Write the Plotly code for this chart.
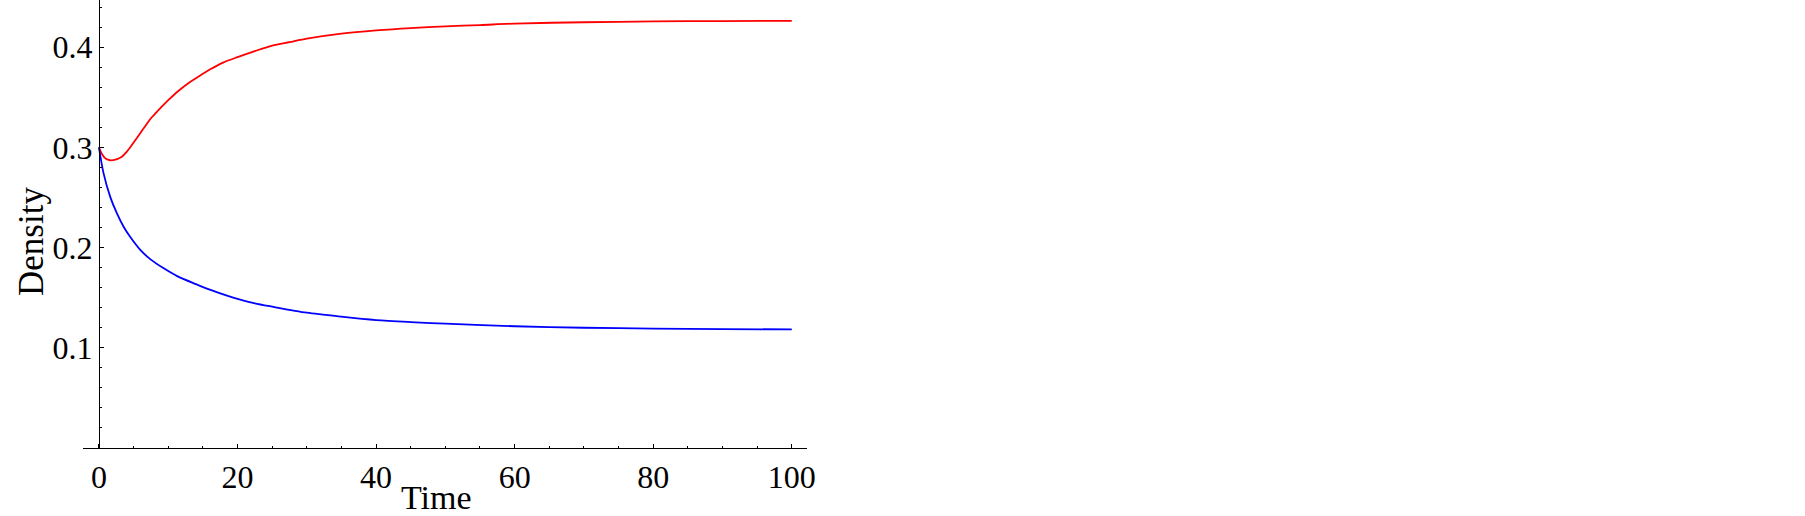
import plotly.graph_objects as go

# Red curve (Density vs Time)
red_t = [0, 0.5, 1, 1.6, 2.5, 3.3, 4, 4.7, 5.5, 6.2, 7, 7.6, 8.5, 9, 10, 11.5, 13, 14, 16, 18,
         20, 22.5, 25, 27.5, 30, 35, 40, 45, 50, 55, 60, 70, 80, 90, 100]
red_y = [0.300, 0.2925, 0.2885, 0.2871, 0.2880, 0.2906, 0.2955, 0.3018, 0.3095, 0.3165, 0.3243, 0.3298,
         0.3365, 0.340, 0.347, 0.3565, 0.3645, 0.369, 0.3776, 0.3848, 0.390, 0.396, 0.4015, 0.405,
         0.4085, 0.4135, 0.4167, 0.419, 0.4207, 0.422, 0.4235, 0.4248, 0.4256, 0.426, 0.4262]

# Blue curve
blue_t = [0, 0.67, 1.63, 2.6, 3.56, 4.5, 6, 7.4, 9.3, 11.3, 14, 16, 18.7, 20.4, 22.5, 25, 30, 35,
          40, 45, 50, 60, 70, 80, 90, 100]
blue_y = [0.300, 0.274, 0.2506, 0.234, 0.2207, 0.2107, 0.1974, 0.1885, 0.1795, 0.1715, 0.1635,
          0.158, 0.1515, 0.148, 0.1443, 0.141, 0.135, 0.131, 0.1276, 0.1256, 0.124, 0.1215,
          0.1200, 0.1192, 0.1187, 0.1183]

x_ticks = [0, 20, 40, 60, 80, 100]
y_ticks = [0.1, 0.2, 0.3, 0.4]
y_tick_text = ["0.1", "0.2", "0.3", "0.4"]

FONT = "Liberation Serif, Times New Roman, serif"

fig = go.Figure()
fig.add_trace(go.Scatter(x=red_t, y=red_y, mode="lines", line=dict(color="#ff0000", width=1.8, shape="spline", smoothing=0.8), showlegend=False))
fig.add_trace(go.Scatter(x=blue_t, y=blue_y, mode="lines", line=dict(color="#0000ff", width=1.8, shape="spline", smoothing=0.8), showlegend=False))

W, H = 1805, 516
L, R, T, B = 83, 998, 0, 68
plot_w = W - L - R
plot_h = H - T - B

fig.update_layout(
    width=W, height=H,
    margin=dict(l=L, r=R, t=T, b=B, pad=0, autoexpand=False),
    paper_bgcolor="white", plot_bgcolor="white",
    font=dict(family=FONT, size=32, color="black"),
    xaxis=dict(
        range=[-2.3, 102.2], showgrid=False, zeroline=False, automargin=False,
        showline=True, linecolor="black", linewidth=1.4,
        tickmode="array", tickvals=x_ticks, ticks="inside", ticklen=4, tickwidth=1.2, tickcolor="black",
        minor=dict(tickmode="linear", tick0=0, dtick=5, ticks="inside", ticklen=2, tickwidth=1, tickcolor="black"),
        tickfont=dict(family=FONT, size=32, color="black"),
    ),
    yaxis=dict(
        range=[0, 0.447], showgrid=False, zeroline=False, automargin=False,
        anchor="free", position=(99 - L) / plot_w,
        showline=True, linecolor="black", linewidth=1.4,
        tickmode="array", tickvals=y_ticks, ticktext=y_tick_text,
        ticks="inside", ticklen=4, tickwidth=1.2, tickcolor="black",
        minor=dict(tickmode="linear", tick0=0, dtick=0.02, ticks="inside", ticklen=2, tickwidth=1, tickcolor="black"),
        tickfont=dict(family=FONT, size=32, color="black"),
    ),
    annotations=[
        dict(text="Time", xref="paper", yref="paper", x=(436 - L) / plot_w, y=-(497 - plot_h) / plot_h,
             xanchor="center", yanchor="middle", showarrow=False, font=dict(family=FONT, size=34, color="black")),
        dict(text="Density", xref="paper", yref="paper", x=(31 - L) / plot_w, y=(plot_h - 242) / plot_h,
             xanchor="center", yanchor="middle", textangle=-90, showarrow=False,
             font=dict(family=FONT, size=35, color="black")),
    ],
)

fig.write_html(
    "out.html",
    config={"displayModeBar": False},
    post_script="document.body.style.margin='0';document.body.style.padding='0';document.body.style.overflow='hidden';",
)
